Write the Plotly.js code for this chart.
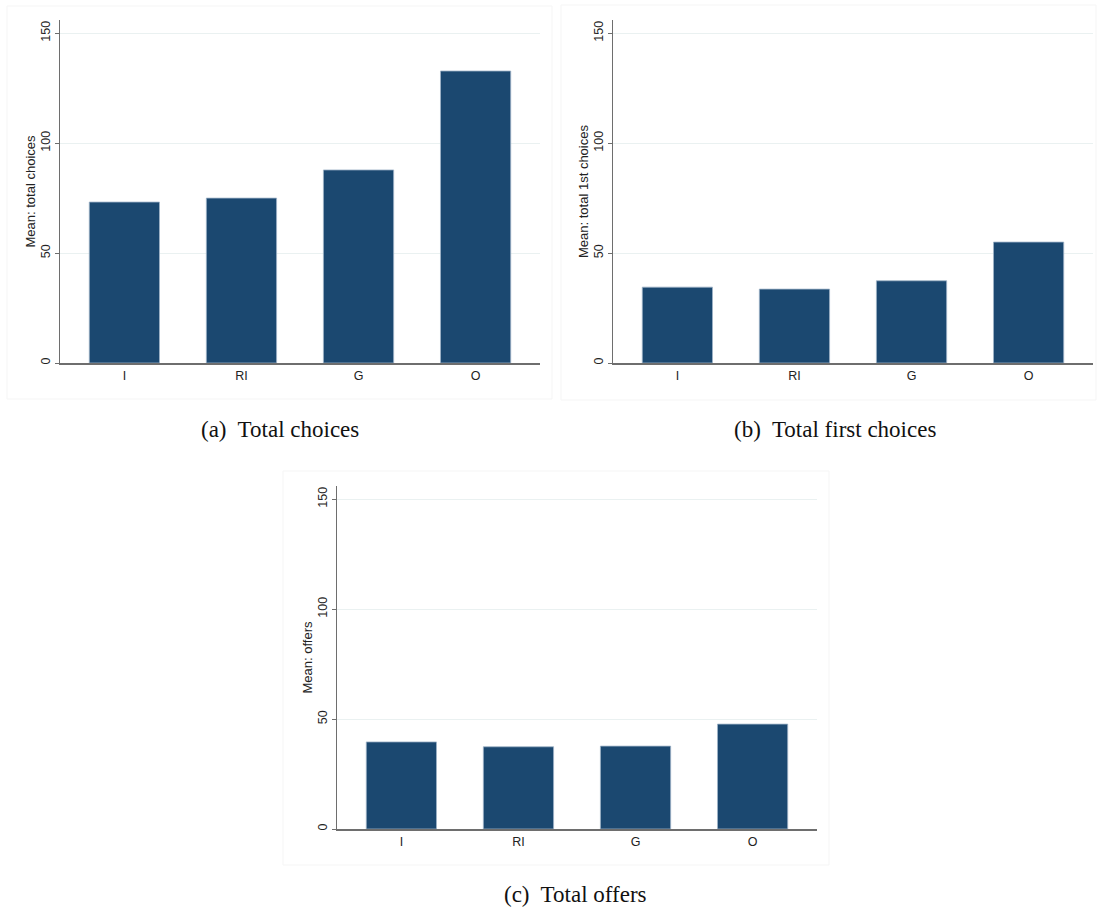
<!DOCTYPE html>
<html>
<head>
<meta charset="utf-8">
<script src="https://cdn.plot.ly/plotly-3.0.1.min.js"></script>
<style>html,body{margin:0;padding:0;background:#fff;}#chart{width:1097px;height:908px;}</style>
</head>
<body>
<div id="chart"></div>
<script>
const categories = ["I", "RI", "G", "O"];
const totalChoices = [73.2, 75.0, 87.8, 132.8];
const totalFirstChoices = [34.5, 33.6, 37.4, 55.0];
const totalOffers = [39.6, 37.4, 37.7, 47.7];
const yTickVals = [0, 50, 100, 150];
const yTitles = ["Mean: total choices", "Mean: total 1st choices", "Mean: offers"];
const captions = ["(a)\u00a0 Total choices", "(b)\u00a0 Total first choices", "(c)\u00a0 Total offers"];

const W = 1097, H = 908;
const barColor = "#1b4870";
const series = [totalChoices, totalFirstChoices, totalOffers];

const traces = series.map((vals, i) => ({
  type: "bar",
  x: categories,
  y: vals,
  xaxis: i === 0 ? "x" : "x" + (i + 1),
  yaxis: i === 0 ? "y" : "y" + (i + 1),
  width: 0.6,
  marker: {color: barColor, line: {color: "#9fb4c8", width: 0.8}},
  showlegend: false,
  hoverinfo: "x+y"
}));

// pixel boxes for each plot area: [left, right, top, bottom]
const boxes = [[60, 540, 20, 363], [613, 1093, 20, 363], [337, 817, 486, 829]];
const fx = p => p / W;
const fy = p => 1 - p / H;

const sansFont = "'Liberation Sans', Arial, sans-serif";
const layout = {
  width: W, height: H,
  margin: {l: 0, r: 0, t: 0, b: 0},
  paper_bgcolor: "#fff",
  plot_bgcolor: "#fff",
  font: {family: sansFont, size: 12, color: "#222"},
  shapes: [],
  annotations: []
};

boxes.forEach((b, i) => {
  const sx = i === 0 ? "" : String(i + 1);
  layout["xaxis" + sx] = {
    domain: [fx(b[0]), fx(b[1])],
    anchor: "y" + sx,
    type: "category",
    range: [-0.55, 3.55],
    showgrid: false,
    showline: true,
    linecolor: "#6e6e6e",
    linewidth: 1.5,
    ticks: "",
    tickfont: {family: sansFont, size: 12.5, color: "#222"},
    fixedrange: true,
    zeroline: false
  };
  layout["yaxis" + sx] = {
    domain: [fy(b[3]), fy(b[2])],
    anchor: "x" + sx,
    range: [0, 156],
    tickvals: yTickVals,
    ticktext: yTickVals.map(String),
    tickangle: -90,
    ticks: "outside",
    ticklen: 4,
    tickcolor: "#6e6e6e",
    tickwidth: 1,
    showline: true,
    linecolor: "#6e6e6e",
    linewidth: 1.5,
    showgrid: true,
    gridcolor: "#eaf1f1",
    gridwidth: 1,
    zeroline: false,
    tickfont: {family: sansFont, size: 12.5, color: "#222"},
    title: {text: yTitles[i], font: {family: sansFont, size: 13, color: "#222"}, standoff: 0},
    fixedrange: true
  };
});

// faint panel frames
const frames = [[7, 552, 6, 399], [561, 1096, 5, 400], [283, 829, 471, 865]];
frames.forEach(f => {
  layout.shapes.push({
    type: "rect", xref: "paper", yref: "paper",
    x0: fx(f[0]), x1: fx(f[1]), y0: fy(f[3]), y1: fy(f[2]),
    line: {color: "#f5f5f5", width: 1}, fillcolor: "rgba(0,0,0,0)", layer: "below"
  });
});

const capPos = [[280, 429], [835, 429], [575, 894]];
captions.forEach((c, i) => {
  layout.annotations.push({
    text: c, xref: "paper", yref: "paper",
    x: fx(capPos[i][0]), y: fy(capPos[i][1]),
    xanchor: "center", yanchor: "middle", showarrow: false,
    font: {family: "'Liberation Serif', 'DejaVu Serif', serif", size: 23, color: "#111"}
  });
});

Plotly.newPlot("chart", traces, layout, {displayModeBar: false, staticPlot: true});
</script>
</body>
</html>
